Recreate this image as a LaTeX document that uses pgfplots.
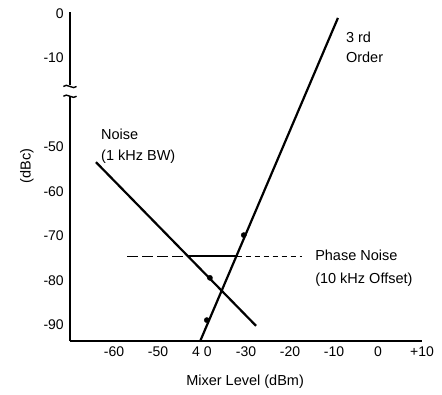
\documentclass[border=0pt]{standalone}
\usepackage{fontspec}
\setmainfont{Liberation Sans}
\usepackage{pgfplots}
\pgfplotsset{compat=1.18}
\begin{document}
\begin{tikzpicture}
\begin{axis}[
  x=4.4bp, y=4.45bp,
  xmin=-70, xmax=10, ymin=-93.6, ymax=-19.7,
  axis lines=left,
  axis line style={-, line width=1.6bp},
  y axis line style={draw=none},
  clip=false,
  xtick={-60,-50,-40,-30,-20,-10,0,10},
  xticklabels={-60,-50,4 0,-30,-20,-10,0,+10},
  ytick={-90,-80,-70,-60,-50,-30,-20},
  yticklabels={-90,-80,-70,-60,-50,-10,0},
  major tick length=0pt,
  minor tick num=0,
  /pgf/number format/assume math mode=true,
  xticklabel style={font=\fontsize{14bp}{16bp}\selectfont, anchor=north, inner sep=0pt, yshift=-6bp},
  yticklabel style={font=\fontsize{14bp}{16bp}\selectfont, anchor=east, inner sep=0pt, xshift=-6bp},
  xlabel={Mixer Level (dBm)},
  ylabel={(dBc)},
  xlabel style={font=\fontsize{14.5bp}{16bp}\selectfont, at={(axis description cs:0.4975,-0.1245)}, anchor=center, inner sep=0pt},
  ylabel style={font=\fontsize{14.5bp}{16bp}\selectfont, at={(axis description cs:-0.1225,0.532)}, anchor=center, inner sep=0pt},
]
% broken y axis
\draw[line width=1.6bp] (axis cs:-70,-93.6) -- (axis cs:-70,-38.8);
\draw[line width=1.6bp] (axis cs:-70,-36.1) -- (axis cs:-70,-19.7);
\draw[line width=1.4bp] (axis cs:-71.5,-36.4) .. controls (axis cs:-70.8,-35.5) and (axis cs:-69.2,-37.3) .. (axis cs:-68.5,-36.4);
\draw[line width=1.4bp] (axis cs:-71.5,-38.6) .. controls (axis cs:-70.8,-37.7) and (axis cs:-69.2,-39.5) .. (axis cs:-68.5,-38.6);
% 3rd order
\addplot[black, line width=2.2bp] coordinates {(-40.4,-93.6) (-9.1,-21.0)};
% noise
\addplot[black, line width=2.2bp] coordinates {(-64.1,-53.4) (-27.7,-90.2)};
% phase noise
\addplot[black, line width=0.9bp, dash pattern=on 11bp off 4bp] coordinates {(-57.0,-74.5) (-43.2,-74.5)};
\addplot[black, line width=1.5bp] coordinates {(-43.2,-74.5) (-32.1,-74.5)};
\addplot[black, line width=0.9bp, dash pattern=on 5bp off 4bp] coordinates {(-32.1,-74.5) (-17.3,-74.5)};
% dots
\addplot[only marks, mark=*, mark size=2.6bp, black] coordinates {(-30.5,-69.8) (-38.9,-88.9) (-38.2,-79.4)};
% labels
\node[anchor=base west, inner sep=0pt, font=\fontsize{14.5bp}{16bp}\selectfont] at (axis cs:-62.95,-48.4) {Noise};
\node[anchor=base west, inner sep=0pt, font=\fontsize{14.5bp}{16bp}\selectfont] at (axis cs:-62.95,-53.1) {(1 kHz BW)};
\node[anchor=base west, inner sep=0pt, font=\fontsize{14.5bp}{16bp}\selectfont] at (axis cs:-7.3,-26.6) {3 rd};
\node[anchor=base west, inner sep=0pt, font=\fontsize{14.5bp}{16bp}\selectfont] at (axis cs:-7.3,-31.1) {Order};
\node[anchor=base west, inner sep=0pt, font=\fontsize{14.5bp}{16bp}\selectfont] at (axis cs:-14.3,-75.4) {Phase Noise};
\node[anchor=base west, inner sep=0pt, font=\fontsize{14.5bp}{16bp}\selectfont] at (axis cs:-14.3,-80.6) {(10 kHz Offset)};
\coordinate (bbl) at (axis cs:-85.9,-105.73);
\coordinate (btr) at (axis cs:14.55,-16.97);
\end{axis}
\pgfresetboundingbox
\useasboundingbox (bbl) rectangle (btr);
\end{tikzpicture}
\end{document}
